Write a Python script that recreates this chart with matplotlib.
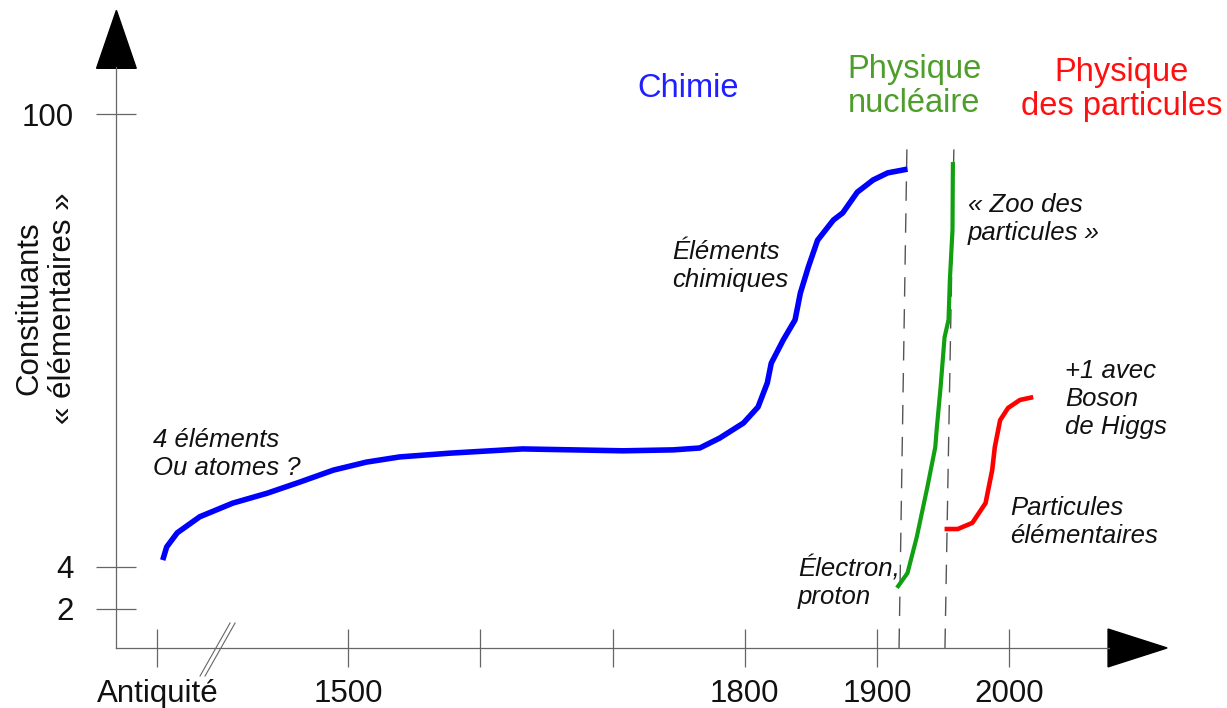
import numpy as np
import matplotlib.pyplot as plt
from matplotlib.patches import Polygon

plt.rcParams['font.family'] = ['Liberation Sans', 'DejaVu Sans']

# ---- data (year, number of "elementary" constituents)
chem_years = [1360, 1363, 1371, 1388, 1413, 1439, 1464, 1489, 1514, 1539,
              1577, 1632, 1670, 1708, 1746, 1766, 1781, 1799, 1810, 1817,
              1820, 1829, 1838, 1842, 1848, 1855, 1867, 1874, 1885, 1897,
              1908, 1923]
chem_n = [5.4, 8.2, 11.2, 14.6, 17.5, 19.6, 22.0, 24.5, 26.2, 27.3,
          28.1, 29.0, 28.8, 28.6, 28.8, 29.2, 31.3, 34.5, 37.9, 43.0,
          47.2, 52.1, 56.4, 62.1, 67.6, 73.3, 77.6, 79.1, 83.5, 86.1,
          87.6, 88.4]

nuc_years = [1915, 1923, 1930, 1938, 1944, 1945, 1948, 1951, 1954, 1955,
             1957, 1957.3]
nuc_n = [3.0, 3.7, 10.3, 20.9, 29.4, 33.0, 42.1, 52.7, 56.4, 64.8,
         75.5, 89.9]

part_years = [1951, 1961, 1972, 1982, 1987, 1989, 1993, 1999, 2008, 2018]
part_n = [12.0, 12.0, 13.3, 17.5, 24.5, 29.4, 35.1, 37.7, 39.4, 40.0]

# dashed era limits (bottom year, top year)
era_lines = [(1916.6, 1922.6), (1951.3, 1958.1)]

x_ticks = [1356, 1500, 1600, 1700, 1800, 1900, 2000]
x_labels = ['Antiquité', '1500', '', '', '1800', '1900', '2000']
y_ticks = [2, 4, 100]
y_labels = ['2', '4', '100']

# schematic (non linear) vertical axis: piecewise linear
y_val = np.array([-50, 0, 2, 4, 100, 300])
y_pix = np.array([-975, 0, 39, 81.3, 533.7, 533.7 + 200 * 4.7125])


def fwd(v):
    return np.interp(v, y_val, y_pix)


def inv(p):
    return np.interp(p, y_pix, y_val)


# setup figure
fig = plt.figure(figsize=(12.27, 7.08), dpi=100)
ax = fig.add_axes([0, 0, 1, 1])
ax.set_yscale('function', functions=(fwd, inv))
ax.set_xlim(1237, 2164.5)
ax.set_ylim(-3.08, 124.3)

axis_col = '#666666'
for s in ['top', 'right']:
    ax.spines[s].set_visible(False)
ax.spines['left'].set_position(('data', 1325))
ax.spines['bottom'].set_position(('data', 0))
ax.spines['left'].set_bounds(0, 110)
ax.spines['bottom'].set_bounds(1325, 2075)
for s in ['left', 'bottom']:
    ax.spines[s].set_color(axis_col)
    ax.spines[s].set_linewidth(0.9)

ax.set_xticks(x_ticks)
ax.set_xticklabels(x_labels)
ax.set_yticks(y_ticks)
ax.set_yticklabels(y_labels)
ax.minorticks_off()
ax.tick_params(axis='x', direction='inout', length=28, width=0.9,
               color=axis_col, pad=8, labelsize=22.5, labelcolor='#111111')
ax.tick_params(axis='y', direction='inout', length=29.5, width=0.9,
               color=axis_col, pad=16, labelsize=22.5, labelcolor='#111111')

# axis arrows
ax.add_patch(Polygon([(1310, 109.8), (1340, 109.8), (1325, 122.1)],
                     closed=True, color='black', clip_on=False))
ax.add_patch(Polygon([(2074.6, -0.97), (2074.6, 0.97), (2119.2, 0)],
                     closed=True, color='black', clip_on=False))

# axis break
ax.plot([1388.2, 1410.9], [-1.44, 1.28], color=axis_col, lw=0.8)
ax.plot([1392.0, 1414.7], [-1.44, 1.28], color=axis_col, lw=0.8)

# era limits
for x0, x1 in era_lines:
    ax.plot([x0, x1], [0, 93.9], color='#555555', lw=1, ls=(0, (14, 9)))

# curves
ax.plot(chem_years, chem_n, color='#0000ff', lw=4, solid_capstyle='butt',
        solid_joinstyle='round')
ax.plot(nuc_years, nuc_n, color='#11a011', lw=3, solid_capstyle='butt',
        solid_joinstyle='round')
ax.plot(part_years, part_n, color='#ff0000', lw=3.3, solid_capstyle='butt',
        solid_joinstyle='round')

# era titles
ax.text(1757, 105.6, 'Chimie', color='#1f1fff', fontsize=23.5,
        ha='center', va='center')
ax.text(1928, 106.0, 'Physique\nnucléaire', color='#4f9d2b', fontsize=23.5,
        ha='center', va='center', multialignment='center', linespacing=1.13)
ax.text(2085, 105.3, 'Physique\ndes particules', color='#ff1010',
        fontsize=23.5, ha='center', va='center', multialignment='center',
        linespacing=1.13)

# notes
note = dict(fontsize=18.5, style='italic', color='#111111', va='center',
            ha='left', linespacing=1.2)
ax.text(1352.6, 28.0, '4 éléments\nOu atomes ?', **note)
ax.text(1745, 67.8, 'Éléments\nchimiques', **note)
ax.text(1968.7, 77.8, '« Zoo des\nparticules »', **note)
ax.text(2042, 39.6, '+1 avec\nBoson\nde Higgs', **note)
ax.text(2000.4, 13.5, 'Particules\nélémentaires', **note)
ax.text(1840.2, 3.28, 'Électron,\nproton', **note)

# y label
ax.text(46 / 1227, 1 - 308 / 708, 'Constituants\n« élémentaires »',
        transform=ax.transAxes, rotation=90, fontsize=22.5, color='#111111',
        ha='center', va='center', multialignment='center', linespacing=1.17)

fig.savefig('out.png', dpi=100)
